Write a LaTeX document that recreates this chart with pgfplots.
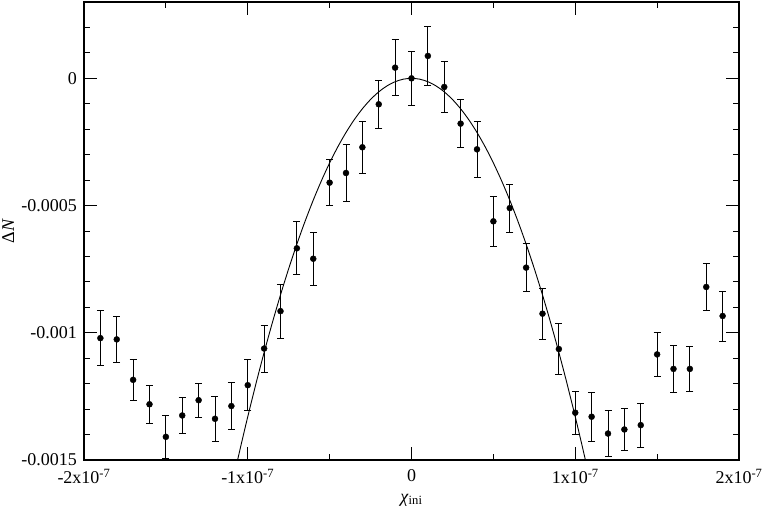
\documentclass[border=0pt]{standalone}
\usepackage{fontspec}
\setmainfont{Liberation Serif}
\usepackage{pgfplots}
\pgfplotsset{compat=1.18}
\begin{document}
\fontsize{18}{21}\selectfont
\begin{tikzpicture}
\begin{axis}[
  scale only axis,
  width=655pt, height=458pt,
  xmin=-2e-7, xmax=2e-7,
  ymin=-0.0015, ymax=0.0003,
  axis line style={line width=1.1pt},
  tick style={line width=0.9pt, black},
  tick align=inside,
  xtick pos=both, ytick pos=both,
  xtick={-2e-7,-1e-7,0,1e-7,2e-7},
  xticklabels={-2x10\textsuperscript{-7},-1x10\textsuperscript{-7},0,1x10\textsuperscript{-7},2x10\textsuperscript{-7}},
  minor xtick={-1.5e-7,-0.5e-7,0.5e-7,1.5e-7},
  ytick={-0.0015,-0.001,-0.0005,0},
  yticklabels={-0.0015,-0.001,-0.0005,0},
  minor ytick={-0.0014,-0.0013,-0.0012,-0.0011,-0.0009,-0.0008,-0.0007,-0.0006,-0.0004,-0.0003,-0.0002,-0.0001,0.0001,0.0002},
  major tick length=13pt, minor tick length=6pt,
  ticklabel style={font=\fontsize{18}{21}\selectfont},
  xticklabel style={yshift=-3pt},
  yticklabel style={xshift=-1pt},
  xlabel={\textit{χ}\textsubscript{ini}},
  ylabel={Δ\textit{N}},
  label style={font=\fontsize{18}{21}\selectfont},
  xlabel style={yshift=2pt},
  ylabel style={yshift=-5pt},
  scaled ticks=false,
]
\addplot[black, line width=0.9pt, smooth] coordinates {
(-1.1e-7,-0.0016093) (-1.05e-7,-0.0014663) (-1.0e-7,-0.00133) (-0.95e-7,-0.0012003)
(-0.9e-7,-0.0010773) (-0.85e-7,-0.0009609) (-0.8e-7,-0.0008512) (-0.75e-7,-0.0007481)
(-0.7e-7,-0.0006517) (-0.65e-7,-0.0005619) (-0.6e-7,-0.0004788) (-0.55e-7,-0.0004023)
(-0.5e-7,-0.0003325) (-0.45e-7,-0.0002693) (-0.4e-7,-0.0002128) (-0.35e-7,-0.0001629)
(-0.3e-7,-0.0001197) (-0.25e-7,-0.0000831) (-0.2e-7,-0.0000532) (-0.15e-7,-0.0000299)
(-0.1e-7,-0.0000133) (-0.05e-7,-0.0000033) (0,0)
(0.05e-7,-0.0000033) (0.1e-7,-0.0000133) (0.15e-7,-0.0000299) (0.2e-7,-0.0000532)
(0.25e-7,-0.0000831) (0.3e-7,-0.0001197) (0.35e-7,-0.0001629) (0.4e-7,-0.0002128)
(0.45e-7,-0.0002693) (0.5e-7,-0.0003325) (0.55e-7,-0.0004023) (0.6e-7,-0.0004788)
(0.65e-7,-0.0005619) (0.7e-7,-0.0006517) (0.75e-7,-0.0007481) (0.8e-7,-0.0008512)
(0.85e-7,-0.0009609) (0.9e-7,-0.0010773) (0.95e-7,-0.0012003) (1.0e-7,-0.00133)
(1.05e-7,-0.0014663) (1.1e-7,-0.0016093)
};
\addplot[black, only marks, mark=*, mark size=3pt,
  error bars/.cd, y dir=both, y explicit,
  error bar style={line width=0.8pt, black},
  error mark options={black, line width=0.8pt, mark size=3.5pt, rotate=90}]
  table[x=x, y=y, y error=e] {
x y e
-1.9e-7 -0.001021 0.000107
-1.8e-7 -0.001026 0.000090
-1.7e-7 -0.001185 0.000080
-1.6e-7 -0.001281 0.000076
-1.5e-7 -0.001409 0.000085
-1.4e-7 -0.001325 0.000071
-1.3e-7 -0.001265 0.000067
-1.2e-7 -0.001338 0.000088
-1.1e-7 -0.001288 0.000092
-1.0e-7 -0.001206 0.000100
-0.9e-7 -0.001062 0.000092
-0.8e-7 -0.000915 0.000107
-0.7e-7 -0.000668 0.000104
-0.6e-7 -0.000709 0.000103
-0.5e-7 -0.000410 0.000090
-0.4e-7 -0.000372 0.000112
-0.3e-7 -0.000271 0.000103
-0.2e-7 -0.000102 0.000094
-0.1e-7 0.000042 0.000111
0 0.000000 0.000107
0.1e-7 0.000088 0.000117
0.2e-7 -0.000034 0.000101
0.3e-7 -0.000178 0.000094
0.4e-7 -0.000279 0.000109
0.5e-7 -0.000562 0.000098
0.6e-7 -0.000510 0.000094
0.7e-7 -0.000744 0.000095
0.8e-7 -0.000925 0.000101
0.9e-7 -0.001064 0.000101
1.0e-7 -0.001314 0.000085
1.1e-7 -0.001330 0.000095
1.2e-7 -0.001396 0.000091
1.3e-7 -0.001380 0.000081
1.4e-7 -0.001363 0.000086
1.5e-7 -0.001085 0.000088
1.6e-7 -0.001142 0.000094
1.7e-7 -0.001142 0.000090
1.8e-7 -0.000820 0.000094
1.9e-7 -0.000934 0.000098
};
\end{axis}
\pgfresetboundingbox
\useasboundingbox ([shift={(-84pt,-51pt)}]current axis.south west) rectangle ([shift={(24pt,2pt)}]current axis.north east);
\end{tikzpicture}
\end{document}
